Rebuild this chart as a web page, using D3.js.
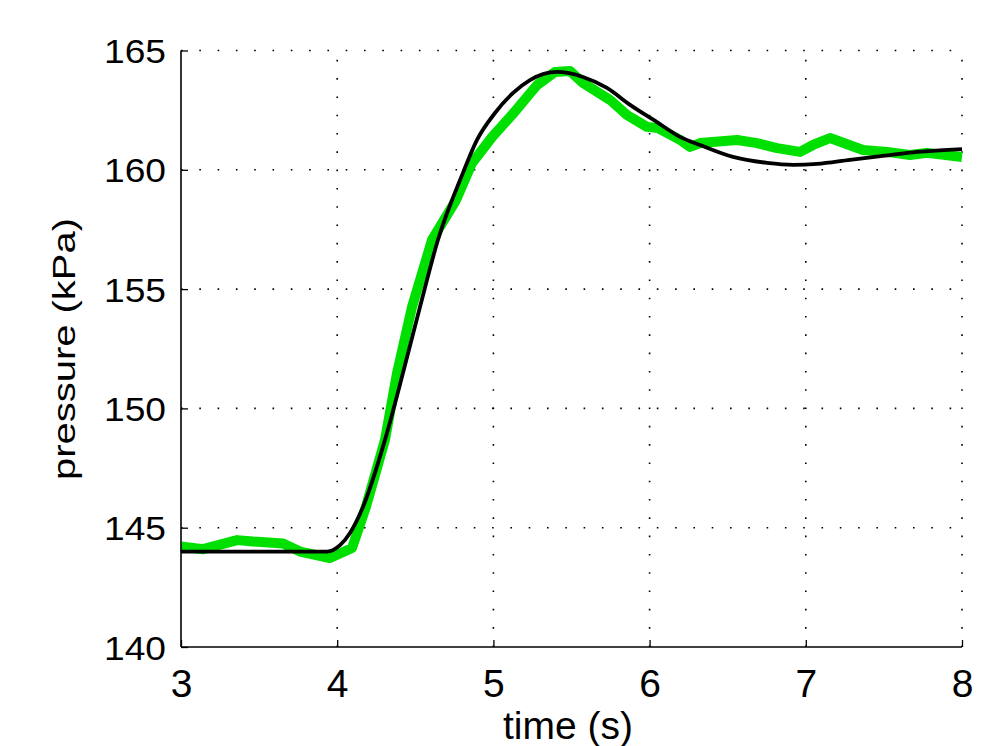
<!DOCTYPE html>
<html>
<head>
<meta charset="utf-8">
<script src="https://cdn.jsdelivr.net/npm/d3@7"></script>
<style>
  html, body { margin: 0; padding: 0; background: #fff; }
  svg { display: block; }
  text { font-family: "Liberation Sans", Arial, Helvetica, sans-serif; fill: #000; }
</style>
</head>
<body>
<svg id="chart" width="982" height="746"></svg>
<script>
// ---- data ----
const xTicks = [3, 4, 5, 6, 7, 8];
const yTicks = [140, 145, 150, 155, 160, 165];
const xLabel = "time (s)";
const yLabel = "pressure (kPa)";

// measured pressure (green)
const measuredTime = [3.000, 3.141, 3.359, 3.461, 3.653, 3.762, 3.954, 4.095, 4.184, 4.306,
  4.383, 4.479, 4.607, 4.761, 4.863, 4.991, 5.119, 5.279, 5.394, 5.490,
  5.574, 5.747, 5.855, 5.983, 6.054, 6.195, 6.259, 6.323, 6.560, 6.688,
  6.816, 6.963, 7.046, 7.155, 7.366, 7.520, 7.667, 7.776, 8.000];
const measuredPressure = [144.21, 144.10, 144.48, 144.42, 144.34, 144.00, 143.73, 144.15, 145.87, 148.68,
  151.48, 154.25, 157.06, 158.73, 160.28, 161.37, 162.30, 163.55, 164.10, 164.14,
  163.64, 162.93, 162.30, 161.80, 161.75, 161.25, 160.96, 161.12, 161.25, 161.12,
  160.91, 160.75, 161.04, 161.33, 160.83, 160.75, 160.62, 160.71, 160.54];

// model pressure (black)
const modelTime = [3.000, 3.935, 4.018, 4.082, 4.165, 4.306, 4.421, 4.530, 4.645, 4.805,
  4.895, 5.010, 5.126, 5.234, 5.407, 5.574, 5.727, 5.875, 6.047, 6.195,
  6.323, 6.534, 6.752, 6.918, 7.072, 7.283, 7.494, 7.712, 8.000];
const modelPressure = [144.00, 144.00, 144.27, 144.78, 145.87, 148.68, 151.48, 154.25, 157.06, 159.87,
  161.25, 162.38, 163.22, 163.76, 164.10, 163.89, 163.43, 162.72, 162.00, 161.38,
  161.04, 160.54, 160.29, 160.21, 160.25, 160.42, 160.58, 160.75, 160.87];

// ---- layout ----
const L = 181, R = 962, T = 50.5, B = 647;
const svg = d3.select("#chart");
const x = d3.scaleLinear().domain([3, 8]).range([L, R]);
const y = d3.scaleLinear().domain([140, 165]).range([B, T]);

// grid (dotted)
const grid = svg.append("g").attr("stroke", "#000").attr("stroke-width", 1.6)
  .attr("stroke-dasharray", "1.6,16.7").attr("fill", "none");
xTicks.filter(d => d !== 3).forEach(d => {
  grid.append("line").attr("x1", x(d)).attr("x2", x(d)).attr("y1", B).attr("y2", T);
});
yTicks.filter(d => d !== 140).forEach(d => {
  grid.append("line").attr("x1", L).attr("x2", R).attr("y1", y(d)).attr("y2", y(d));
});

// lines
const measured = measuredTime.map((t, i) => [t, measuredPressure[i]]);
const model = modelTime.map((t, i) => [t, modelPressure[i]]);

svg.append("path")
  .datum(measured)
  .attr("fill", "none")
  .attr("stroke", "#00e000")
  .attr("stroke-width", 10)
  .attr("stroke-linejoin", "round")
  .attr("stroke-linecap", "butt")
  .attr("d", d3.line().x(d => x(d[0])).y(d => y(d[1])));

svg.append("path")
  .datum(model)
  .attr("fill", "none")
  .attr("stroke", "#000")
  .attr("stroke-width", 3.8)
  .attr("stroke-linejoin", "round")
  .attr("d", d3.line().x(d => x(d[0])).y(d => y(d[1])).curve(d3.curveMonotoneX));

// axes
const xAxis = svg.append("g").attr("transform", `translate(0,${B})`)
  .call(d3.axisBottom(x).tickValues(xTicks).tickSize(-7).tickPadding(0).tickFormat(d3.format("d")));
const yAxis = svg.append("g").attr("transform", `translate(${L},0)`)
  .call(d3.axisLeft(y).tickValues(yTicks).tickSize(-7).tickPadding(0).tickFormat(d3.format("d")));

[xAxis, yAxis].forEach(a => {
  a.select(".domain").attr("stroke", "#000").attr("stroke-width", 1.6);
  a.selectAll(".tick line").attr("stroke", "#000").attr("stroke-width", 1.3);
});
xAxis.select(".domain").attr("d", `M${L},0H${R}`);
yAxis.select(".domain").attr("d", `M0,${B}V${T}`);

xAxis.selectAll(".tick text")
  .attr("y", 50).attr("dy", null)
  .style("font-size", "39px")
  .attr("font-family", null)
  .attr("text-anchor", "middle");

yAxis.selectAll(".tick text")
  .attr("x", -15).attr("dy", null).attr("y", 12)
  .style("font-size", "33px")
  .attr("font-family", null)
  .attr("text-anchor", "end")
  .attr("textLength", 62)
  .attr("lengthAdjust", "spacingAndGlyphs");

// axis labels
svg.append("text")
  .attr("x", 568).attr("y", 739)
  .attr("text-anchor", "middle")
  .style("font-size", "38px")
  .attr("textLength", 130)
  .attr("lengthAdjust", "spacingAndGlyphs")
  .text(xLabel);

svg.append("text")
  .attr("transform", "translate(75,349) rotate(-90)")
  .attr("text-anchor", "middle")
  .style("font-size", "32px")
  .attr("textLength", 262)
  .attr("lengthAdjust", "spacingAndGlyphs")
  .text(yLabel);
</script>
</body>
</html>
